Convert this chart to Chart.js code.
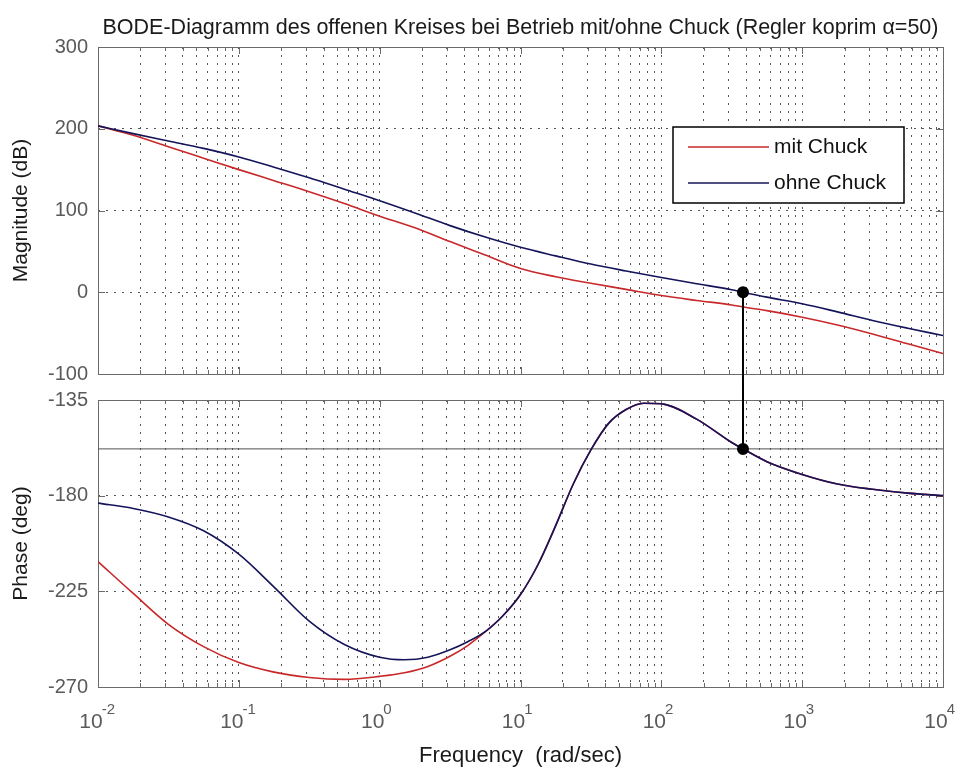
<!DOCTYPE html>
<html>
<head>
<meta charset="utf-8">
<script src="https://cdn.jsdelivr.net/npm/chart.js@4.4.1/dist/chart.umd.min.js"></script>
<style>
  html, body { margin: 0; padding: 0; background: #ffffff; }
  #wrap { position: relative; width: 963px; height: 771px; background: #ffffff; }
  #c1 { position: absolute; left: 0; top: 0; }
  #c2 { position: absolute; left: 0; top: 387px; }
</style>
</head>
<body>
<div id="wrap">
  <canvas id="c1" width="963" height="387"></canvas>
  <canvas id="c2" width="963" height="384"></canvas>
</div>
<script>
// ---------- data ----------
const chartTitle = 'BODE-Diagramm des offenen Kreises bei Betrieb mit/ohne Chuck (Regler koprim \u03b1=50)';
const seriesNames = ['mit Chuck', 'ohne Chuck'];

// frequencies (rad/sec), roughly quarter-decade spaced
const freqMag = [0.01, 0.0178, 0.0316, 0.0562, 0.1, 0.178, 0.316, 0.562, 1, 1.78, 3.16, 5.62, 10, 17.8, 31.6, 56.2, 100, 178, 316, 380, 562, 1000, 1780, 3160, 5620, 10000];
const magMit  = [203.5, 192, 178, 164, 150, 136.5, 123, 108.5, 93, 79, 62, 45.5, 29, 19, 11, 3.5, -4, -10, -15.5, -18, -22.5, -30.5, -40, -51, -63, -75];
const magOhne = [203.5, 194, 185, 176, 165.5, 153, 140, 126, 112, 97, 81.5, 67.5, 55, 44.5, 34.5, 26, 18, 10.5, 3, 0, -6, -14, -24, -34.5, -44, -53];

const freqPhase = [0.01, 0.0178, 0.0316, 0.0562, 0.1, 0.178, 0.316, 0.562, 1, 1.5, 2.2, 3.16, 4.22, 5.62, 7.5, 10, 13.3, 17.8, 23.7, 31.6, 42.2, 56.2, 75, 100, 178, 316, 380, 562, 1000, 1780, 3160, 5620, 10000];
const phaseMit  = [-211, -226, -240.5, -251, -258.5, -263, -265.5, -266.4, -265, -263.3, -260.3, -255.5, -250.5, -244, -236.5, -226.5, -212.5, -194, -174.5, -158.5, -146, -139.5, -136.5, -136.8, -144, -155, -158, -164, -170, -174.5, -177, -178.8, -180];
const phaseOhne = [-183.5, -186, -190, -196.5, -207.5, -223, -239, -250, -256, -257.2, -256, -252.5, -248.7, -244, -236.5, -226.5, -212.5, -194, -174.5, -158.5, -146, -139.5, -136.5, -136.8, -144, -155, -158, -164, -170, -174.5, -177, -178.8, -180];

const crossFreq = 380;        // gain crossover (0 dB)
const crossMag = 0;
const crossPhase = -158;      // phase at crossover / reference line

const magTicks = [-100, 0, 100, 200, 300];
const phaseTicks = [-270, -225, -180, -135];
const freqDecades = [-2, -1, 0, 1, 2, 3, 4];

// ---------- helpers ----------
const FONT = "'Liberation Sans', Arial, Helvetica, sans-serif";
const colMit = '#c8282a';
const colOhne = '#14145a';
const tickCol = '#5a5a5a';

function logTickList() {
  const t = [];
  for (let i = 0; i < freqDecades.length; i++) {
    const d = freqDecades[i];
    if (i === freqDecades.length - 1) { t.push({value: Math.pow(10, d)}); break; }
    for (let m = 1; m <= 9; m++) t.push({value: +(m * Math.pow(10, d)).toPrecision(6)});
  }
  return t;
}
function isDecade(v) { const l = Math.log10(v); return Math.abs(l - Math.round(l)) < 1e-6; }
function pts(xs, ys) { return xs.map((x, i) => ({x: x, y: ys[i]})); }

// frame + inner MATLAB style tick marks
const framePlugin = {
  id: 'frame',
  beforeDatasetsDraw(chart) {
    const {ctx, chartArea: a, scales} = chart;
    ctx.save();
    ctx.strokeStyle = '#6a6a6a';
    ctx.lineWidth = 1;
    ctx.beginPath();
    scales.x.ticks.forEach(t => {
      const px = Math.round(scales.x.getPixelForValue(t.value)) + 0.5;
      const len = isDecade(t.value) ? 7 : 4;
      ctx.moveTo(px, a.bottom); ctx.lineTo(px, a.bottom - len);
      ctx.moveTo(px, a.top); ctx.lineTo(px, a.top + len);
    });
    scales.y.ticks.forEach(t => {
      const py = Math.round(scales.y.getPixelForValue(t.value)) + 0.5;
      ctx.moveTo(a.left, py); ctx.lineTo(a.left + 7, py);
      ctx.moveTo(a.right, py); ctx.lineTo(a.right - 7, py);
    });
    ctx.stroke();
    ctx.strokeRect(Math.round(a.left) + 0.5, Math.round(a.top) + 0.5, Math.round(a.right - a.left), Math.round(a.bottom - a.top));
    ctx.restore();
  }
};

// exponent of the decade tick labels (10^n), drawn raised right after the '10'
const exponentPlugin = {
  id: 'exponents',
  afterDraw(chart) {
    const {ctx, scales} = chart;
    const sx = scales.x;
    const items = sx._labelItems || [];
    ctx.save();
    ctx.fillStyle = tickCol;
    ctx.textBaseline = 'alphabetic';
    ctx.textAlign = 'left';
    sx.ticks.forEach((t, i) => {
      if (!isDecade(t.value)) return;
      const n = Math.round(Math.log10(t.value));
      const it = items[i];
      const px = sx.getPixelForValue(t.value) + sx.options.ticks.labelOffset;
      ctx.font = '21px ' + FONT;
      const w = ctx.measureText('10').width;
      const yTop = it ? it.options.translation[1] : sx.top + 23;
      ctx.font = '15px ' + FONT;
      ctx.fillText(String(n), px + w / 2 - 1, yTop + 4);
    });
    ctx.restore();
  }
};

// MATLAB-like legend box inside the magnitude axes
const legendBoxPlugin = {
  id: 'legendBox',
  afterDatasetsDraw(chart) {
    const {ctx, chartArea: a} = chart;
    const sets = chart.data.datasets.filter(d => d.legendIndex !== undefined)
      .sort((p, q) => p.legendIndex - q.legendIndex);
    const x0 = a.right - 270, y0 = a.top + 80, w = 231, h = 76;
    ctx.save();
    ctx.fillStyle = '#ffffff';
    ctx.fillRect(x0, y0, w, h);
    ctx.strokeStyle = '#000000';
    ctx.lineWidth = 1.5;
    ctx.strokeRect(x0, y0, w, h);
    ctx.font = '21px ' + FONT;
    ctx.textBaseline = 'middle';
    sets.forEach((d, i) => {
      const y = y0 + 20 + i * 36;
      ctx.strokeStyle = d.borderColor;
      ctx.lineWidth = 1.5;
      ctx.beginPath(); ctx.moveTo(x0 + 15, y); ctx.lineTo(x0 + 96, y); ctx.stroke();
      ctx.fillStyle = '#111111';
      ctx.fillText(d.label, x0 + 101, y);
    });
    ctx.restore();
  }
};

const xBase = {
  type: 'logarithmic',
  min: 0.01, max: 10000,
  afterBuildTicks: s => { s.ticks = logTickList(); },
  grid: {color: '#555555', lineWidth: 1, drawTicks: false},
  border: {display: false, dash: [2, 6]},
};
const yGrid = {color: '#555555', lineWidth: 1, drawTicks: false};

Chart.defaults.font.family = FONT;
Chart.defaults.color = tickCol;

// Chart.js draws the first dataset on top, so markers come first and the reference line last
// ---------- magnitude chart ----------
new Chart(document.getElementById('c1'), {
  type: 'line',
  data: {
    datasets: [
      {label: 'marker', data: [{x: crossFreq, y: crossMag}, {x: crossFreq, y: -400}], borderColor: '#000000', borderWidth: 2, pointRadius: [5, 0], pointBackgroundColor: '#000000', pointBorderColor: '#000000', clip: false},
      {label: seriesNames[1], legendIndex: 1, data: pts(freqMag, magOhne), borderColor: colOhne, borderWidth: 1.6, pointRadius: 0, cubicInterpolationMode: 'monotone'},
      {label: seriesNames[0], legendIndex: 0, data: pts(freqMag, magMit), borderColor: colMit, borderWidth: 1.6, pointRadius: 0, cubicInterpolationMode: 'monotone'}
    ]
  },
  options: {
    responsive: false, animation: false,
    layout: {padding: {left: 0, right: 20, top: 0, bottom: 0}},
    plugins: {
      legend: {display: false}, tooltip: {enabled: false},
      title: {display: true, text: chartTitle, fullSize: false, color: '#1a1a1a', font: {size: 21.5, weight: 'normal', family: FONT}, padding: {top: 15, bottom: 6.2}}
    },
    scales: {
      x: Object.assign({}, xBase, {
        ticks: {display: false, autoSkip: false},
        afterFit: s => { s.height = 13; s.paddingLeft = 0; s.paddingRight = 0; }
      }),
      y: {
        min: -100, max: 300,
        afterBuildTicks: s => { s.ticks = magTicks.map(v => ({value: v})); },
        ticks: {padding: 10, font: {size: 20}, color: tickCol},
        grid: yGrid, border: {display: false, dash: [2, 6]},
        title: {display: true, text: 'Magnitude (dB)', color: '#1a1a1a', font: {size: 21}, padding: {top: 9, bottom: 0}},
        afterFit: s => { s.width = 98; s.paddingTop = 0; s.paddingBottom = 0; }
      }
    }
  },
  plugins: [framePlugin, legendBoxPlugin]
});

// ---------- phase chart ----------
new Chart(document.getElementById('c2'), {
  type: 'line',
  data: {
    datasets: [
      {label: 'marker', data: [{x: crossFreq, y: crossPhase}, {x: crossFreq, y: -60}], borderColor: '#000000', borderWidth: 2, pointRadius: [5, 0], pointBackgroundColor: '#000000', pointBorderColor: '#000000', clip: false},
      {label: seriesNames[1], data: pts(freqPhase, phaseOhne), borderColor: colOhne, borderWidth: 1.6, pointRadius: 0, cubicInterpolationMode: 'monotone'},
      {label: seriesNames[0], data: pts(freqPhase, phaseMit), borderColor: colMit, borderWidth: 1.6, pointRadius: 0, cubicInterpolationMode: 'monotone'},
      {label: 'ref', data: [{x: 0.01, y: crossPhase}, {x: 10000, y: crossPhase}], borderColor: '#505050', borderWidth: 1, pointRadius: 0}
    ]
  },
  options: {
    responsive: false, animation: false,
    layout: {padding: {left: 0, right: 20, top: 13, bottom: 0}},
    plugins: {legend: {display: false}, tooltip: {enabled: false}},
    scales: {
      x: Object.assign({}, xBase, {
        ticks: {
          autoSkip: false, maxRotation: 0, padding: 23, labelOffset: -7, font: {size: 21}, color: tickCol,
          callback: v => isDecade(v) ? '10' : ''
        },
        title: {display: true, text: 'Frequency  (rad/sec)', color: '#1a1a1a', font: {size: 22}, padding: {top: 0, bottom: 2}},
        afterFit: s => { s.height = 84; s.paddingLeft = 0; s.paddingRight = 0; }
      }),
      y: {
        min: -270, max: -135,
        afterBuildTicks: s => { s.ticks = phaseTicks.map(v => ({value: v})); },
        ticks: {padding: 10, font: {size: 20}, color: tickCol},
        grid: yGrid, border: {display: false, dash: [2, 6]},
        title: {display: true, text: 'Phase (deg)', color: '#1a1a1a', font: {size: 21}, padding: {top: 9, bottom: 0}},
        afterFit: s => { s.width = 98; s.paddingTop = 0; s.paddingBottom = 0; }
      }
    }
  },
  plugins: [framePlugin, exponentPlugin]
});
</script>
</body>
</html>
